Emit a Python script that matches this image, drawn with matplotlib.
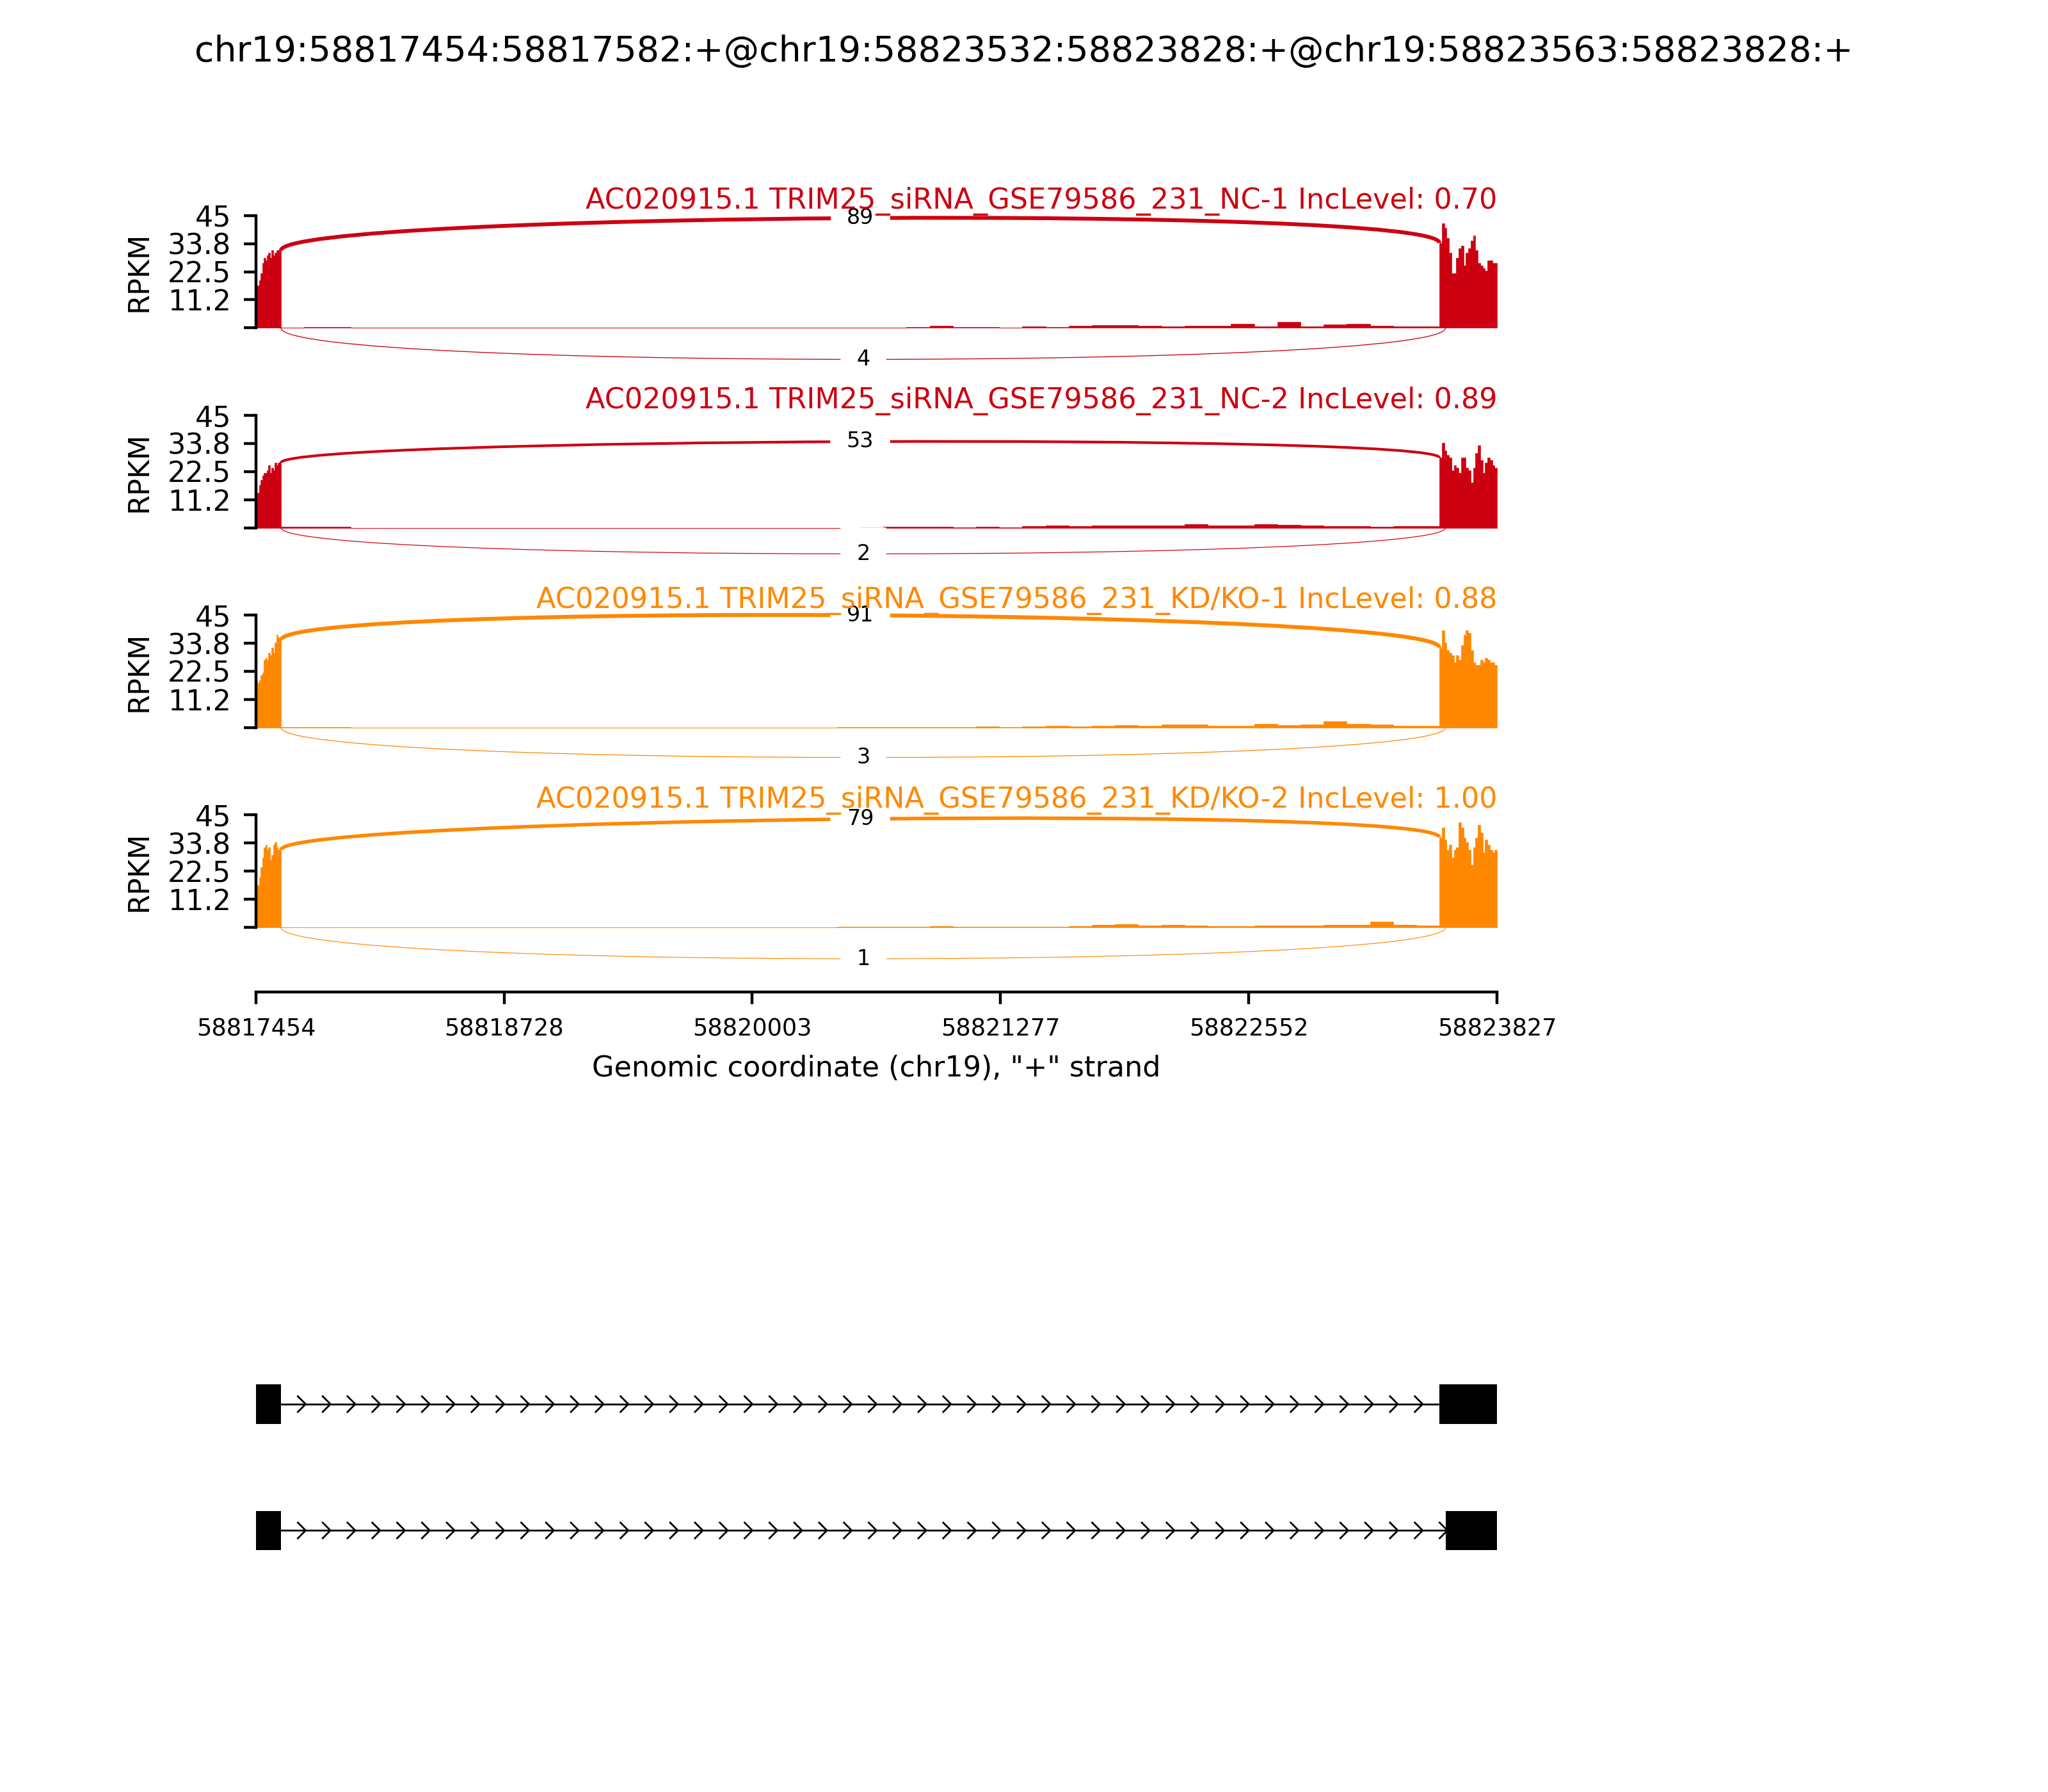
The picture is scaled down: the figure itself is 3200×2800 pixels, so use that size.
import numpy as np
import matplotlib.pyplot as plt
from matplotlib.path import Path
from matplotlib.patches import PathPatch, Rectangle

title = "chr19:58817454:58817582:+@chr19:58823532:58823828:+@chr19:58823563:58823828:+"
x_start, x_end = 58817454, 58823828
exon1 = (58817454, 58817582)
exon2_long = (58823532, 58823828)
exon2_short = (58823563, 58823828)
xticks = [58817454, 58818728, 58820003, 58821277, 58822552, 58823827]
yticks = [0, 11.25, 22.5, 33.75, 45]
ytick_labels = ['', '11.2', '22.5', '33.8', '45']

samples = ['TRIM25_siRNA_GSE79586_231_NC-1', 'TRIM25_siRNA_GSE79586_231_NC-2',
           'TRIM25_siRNA_GSE79586_231_KD/KO-1', 'TRIM25_siRNA_GSE79586_231_KD/KO-2']
gene = 'AC020915.1'
colors = ['#CC0011', '#CC0011', '#FF8800', '#FF8800']
inclevels = ['0.70', '0.89', '0.88', '1.00']
inc_counts = [89, 53, 91, 79]
skip_counts = [4, 2, 3, 1]
inc_peak = [44, 34.5, 45, 43.4]      # top of the inclusion arc (RPKM)
skip_depth = [12.6, 10.5, 12, 12.6]  # depth of the skipping arc below 0

# coverage (RPKM), exon 1 in 16 bins, intron in 50 bins, exon 2 in 24 bins
cov_exon1 = [
    [16, 17, 19, 22, 26, 28, 27, 29, 30, 28, 31, 29, 30, 31, 31, 31],
    [12, 14, 17, 19, 21, 22, 22, 23, 25, 22, 24, 23, 26, 25, 26, 26],
    [19, 18, 19, 21, 22, 27, 28, 27, 30, 29, 32, 30, 34, 37, 36, 35],
    [15, 17, 20, 24, 28, 32, 33, 31, 32, 27, 29, 33, 34, 32, 31, 31],
]
cov_intron = [
    [0, 0.4, 0.3, 0, 0, 0, 0, 0, 0, 0, 0, 0, 0, 0, 0, 0, 0, 0, 0, 0, 0, 0, 0, 0,
     0.2, 0, 0.2, 0.3, 0.8, 0.4, 0.3, 0.2, 0.5, 0.3, 0.8, 1.0, 1.1, 0.9, 0.5, 0.8,
     0.9, 1.7, 0.6, 2.3, 0.5, 1.5, 1.7, 0.9, 0.6, 0.7],
    [0.3, 0.4, 0.3, 0, 0, 0, 0, 0, 0, 0, 0, 0, 0, 0, 0, 0, 0, 0, 0, 0, 0, 0, 0, 0,
     0, 0.2, 0.3, 0.3, 0.4, 0.2, 0.3, 0.2, 0.6, 0.8, 0.7, 0.8, 0.9, 0.8, 1.0, 1.4,
     0.9, 1.0, 1.3, 1.1, 0.9, 0.7, 0.6, 0.5, 0.6, 0.7],
    [0.2, 0.2, 0.1, 0, 0, 0, 0, 0, 0, 0, 0, 0, 0, 0, 0, 0, 0, 0, 0, 0, 0, 0, 0, 0,
     0.2, 0.2, 0.3, 0.3, 0.3, 0.2, 0.4, 0.3, 0.4, 0.6, 0.5, 0.7, 0.9, 0.8, 1.3, 1.2,
     0.6, 0.8, 1.4, 1.0, 1.1, 2.4, 1.6, 1.3, 0.7, 0.6],
    [0, 0, 0, 0, 0, 0, 0, 0, 0, 0, 0, 0, 0, 0, 0, 0, 0, 0, 0, 0, 0, 0, 0, 0,
     0.3, 0.2, 0.3, 0.2, 0.4, 0.2, 0.3, 0.3, 0.2, 0.3, 0.4, 1.0, 1.2, 0.8, 0.9, 0.7,
     0.6, 0.5, 0.7, 0.8, 0.7, 0.9, 1.0, 2.3, 1.0, 0.8],
]
cov_exon2 = [
    [34, 42, 40, 36, 30, 22, 22, 28, 32, 33, 25, 30, 32, 35, 37, 31, 26, 25, 24, 23, 27, 27, 26, 26],
    [28, 34, 31, 29, 28, 23, 25, 24, 22, 28, 28, 24, 23, 18, 24, 30, 33, 27, 22, 26, 28, 27, 25, 24],
    [32, 39, 34, 31, 30, 29, 26, 29, 27, 33, 37, 39, 38, 31, 26, 25, 25, 27, 26, 28, 27, 26, 26, 25],
    [36, 40, 35, 31, 33, 28, 31, 32, 42, 40, 36, 34, 31, 25, 32, 36, 41, 38, 30, 35, 33, 31, 30, 31],
]

fig = plt.figure(figsize=(8, 7), dpi=400)
fig.text(0.5, 0.971, title, ha='center', va='center', fontsize=10)

tops = [0.8797, 0.7682, 0.6567, 0.5452]
ylo, yhi = -26, 45
maxc = max(inc_counts)

for k in range(4):
    ax = fig.add_axes([0.125, tops[k] - 0.0989, 0.606, 0.0989])
    col = colors[k]

    e1 = np.linspace(exon1[0], exon1[1], len(cov_exon1[k]) + 1)
    it = np.linspace(exon1[1], exon2_long[0], len(cov_intron[k]) + 1)
    e2 = np.linspace(exon2_long[0], exon2_long[1], len(cov_exon2[k]) + 1)
    xs = np.concatenate([e1[:-1], it[:-1], e2])
    ys = np.array(cov_exon1[k] + cov_intron[k] + cov_exon2[k] + [cov_exon2[k][-1]], dtype=float)
    ax.fill_between(xs, 0, ys, step='post', color=col, lw=0.12)

    # inclusion junction (above)
    ss1, ss2 = exon1[1], exon2_long[0]
    yl, yr = cov_exon1[k][-1], cov_exon2[k][0]
    h = (inc_peak[k] - (yl + yr) / 2) / 0.75
    pts = [(ss1, yl), (ss1, yl + h), (ss2, yr + h), (ss2, yr)]
    lw = 0.25 + 0.85 * inc_counts[k] / maxc
    ax.add_patch(PathPatch(Path(pts, [Path.MOVETO, Path.CURVE4, Path.CURVE4, Path.CURVE4]),
                           ec=col, fc='none', lw=lw, clip_on=False))
    ax.text((ss1 + ss2) / 2, inc_peak[k], str(inc_counts[k]), fontsize=6,
            ha='center', va='center', backgroundcolor='w')

    # skipping junction (below)
    ss1, ss2 = exon1[1], exon2_short[0]
    h = skip_depth[k] / 0.75
    pts = [(ss1, 0), (ss1, -h), (ss2, -h), (ss2, 0)]
    lw = 0.2 + 0.85 * skip_counts[k] / maxc
    ax.add_patch(PathPatch(Path(pts, [Path.MOVETO, Path.CURVE4, Path.CURVE4, Path.CURVE4]),
                           ec=col, fc='none', lw=lw, clip_on=False))
    ax.text((ss1 + ss2) / 2, -skip_depth[k], str(skip_counts[k]), fontsize=6,
            ha='center', va='center', backgroundcolor='w')

    ax.set_xlim(x_start, x_end)
    ax.set_ylim(ylo, yhi)
    ax.spines['top'].set_visible(False)
    ax.spines['right'].set_visible(False)
    ax.spines['left'].set_bounds(0, 45)
    ax.set_yticks(yticks)
    ax.set_yticklabels(ytick_labels, fontsize=8)
    ax.set_ylabel('RPKM', fontsize=8)
    ax.yaxis.set_label_coords(-0.083, 0.683)
    ax.set_title('%s %s IncLevel: %s' % (gene, samples[k], inclevels[k]),
                 loc='right', color=col, fontsize=8, pad=2)
    if k < 3:
        ax.spines['bottom'].set_visible(False)
        ax.set_xticks([])
    else:
        ax.spines['bottom'].set_bounds(x_start, xticks[-1])
        ax.set_xticks(xticks)
        ax.set_xticklabels([str(t) for t in xticks], fontsize=6.6)
        ax.set_xlabel('Genomic coordinate (chr19), "+" strand', fontsize=8)

# gene structure
gax = fig.add_axes([0.125, 0.1107, 0.606, 0.141])
isoforms = [[exon1, exon2_long], [exon1, exon2_short]]
ew = 0.31
narrows = 50
spread = 40
for row, exons in enumerate(isoforms):
    y = -row
    for s, e in exons:
        gax.add_patch(Rectangle((s, y - ew / 2), e - s, ew, fc='k', ec='none'))
    a, b = exons[0][1], exons[1][0]
    gax.plot([a, b], [y, y], color='k', lw=0.5)
    for i in range(narrows):
        loc = x_start + i * (x_end - x_start) / narrows
        if a <= loc - spread <= b:
            gax.plot([loc - spread, loc, loc - spread], [y - ew / 5, y, y + ew / 5],
                     color='k', lw=0.5)
gax.set_xlim(x_start, x_end)
gax.set_ylim(-1.5, 0.5)
gax.axis('off')

fig.savefig('out.png', dpi=400)
